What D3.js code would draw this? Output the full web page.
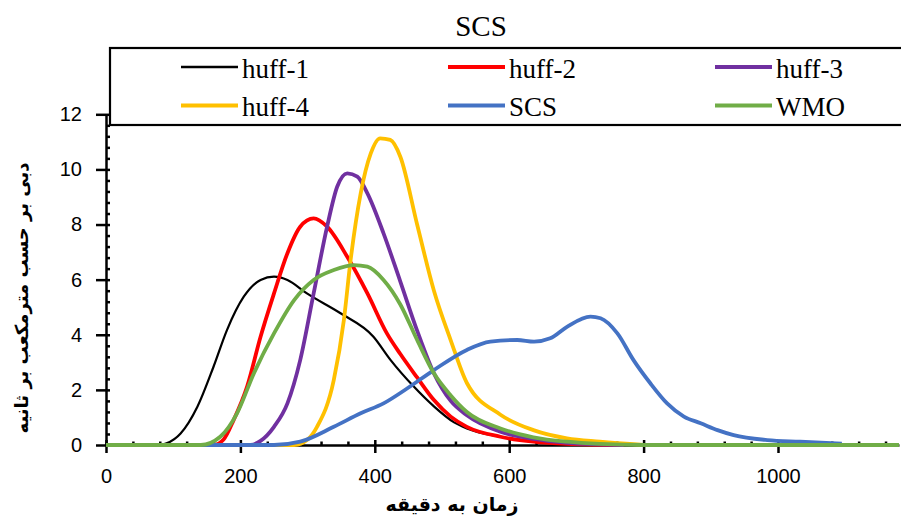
<!DOCTYPE html>
<html>
<head>
<meta charset="utf-8">
<script src="https://cdn.jsdelivr.net/npm/d3@7"></script>
<style>
  body { margin: 0; background: #fff; }
  .tick text { font-family: "Liberation Sans", Arial, sans-serif; font-size: 20px; fill: #000; }
  .legend-text, .title { font-family: "Liberation Serif", "Times New Roman", serif; fill: #000; }
  .axis-title { font-family: "DejaVu Sans", sans-serif; font-weight: bold; fill: #000; }
</style>
</head>
<body>
<div id="chart"></div>
<script>

// --------------------------------------
//  Data
// --------------------------------------

const seriesNames = ["huff-1", "huff-2", "huff-3", "huff-4", "SCS", "WMO"];
const seriesColors = ["#000000", "#FF0000", "#7030A0", "#FFC000", "#4472C4", "#70AD47"];

const huff1Time = [0, 80, 90, 111, 136, 160, 180, 205, 230, 250, 270, 299, 349, 398, 423, 458, 488, 518, 537, 587, 636, 686, 760];
const huff1Flow = [0, 0, 0.06, 0.42, 1.39, 2.84, 4.17, 5.38, 5.99, 6.11, 5.99, 5.5, 4.78, 3.93, 3.1, 2.12, 1.4, 0.82, 0.6, 0.3, 0.12, 0.04, 0];

const huff2Time = [0, 160, 175, 190, 210, 230, 250, 270, 289, 309, 329, 359, 389, 418, 438, 463, 488, 513, 537, 587, 636, 686, 770];
const huff2Flow = [0, 0, 0.2, 0.91, 2.12, 3.93, 5.5, 6.96, 7.92, 8.22, 7.92, 6.83, 5.5, 4.05, 3.3, 2.45, 1.63, 1.03, 0.66, 0.3, 0.12, 0.04, 0];

const huff3Time = [0, 215, 230, 250, 270, 289, 309, 329, 344, 359, 374, 389, 413, 438, 463, 488, 513, 537, 587, 636, 686, 770];
const huff3Flow = [0, 0, 0.15, 0.66, 1.51, 3.08, 5.5, 7.92, 9.37, 9.86, 9.74, 9.13, 7.68, 5.93, 4.15, 2.6, 1.6, 1.08, 0.48, 0.22, 0.08, 0];

const huff4Time = [0, 280, 300, 314, 339, 354, 364, 379, 394, 408, 423, 438, 463, 488, 513, 537, 587, 636, 686, 735, 800];
const huff4Flow = [0, 0, 0.2, 0.66, 2.36, 4.54, 6.71, 9.13, 10.58, 11.13, 11.07, 10.46, 8.0, 5.6, 3.8, 2.25, 1.1, 0.54, 0.24, 0.12, 0];

const scsTime = [0, 250, 289, 339, 379, 413, 448, 488, 537, 572, 612, 637, 661, 686, 721, 736, 761, 785, 810, 835, 860, 885, 910, 934, 984, 1033, 1095];
const scsFlow = [0, 0, 0.12, 0.66, 1.15, 1.51, 2.05, 2.72, 3.45, 3.75, 3.81, 3.75, 3.87, 4.29, 4.66, 4.6, 4.05, 3.08, 2.24, 1.51, 1.03, 0.79, 0.54, 0.36, 0.18, 0.12, 0.05];

const wmoTime = [0, 141, 170, 195, 220, 250, 280, 309, 339, 369, 389, 413, 438, 463, 488, 513, 537, 587, 636, 686, 735, 800, 1180];
const wmoFlow = [0, 0, 0.3, 1.15, 2.6, 4.05, 5.26, 5.99, 6.35, 6.53, 6.47, 5.99, 5.1, 3.81, 2.6, 1.8, 1.2, 0.6, 0.28, 0.12, 0.04, 0, 0];

const xMajorTicks = [0, 200, 400, 600, 800, 1000];
const yMajorTicks = [0, 2, 4, 6, 8, 10, 12];

const chartTitle = "SCS";
const xTitle = "زمان به دقیقه";
const yTitle = "دبی بر حسب مترمکعب بر ثانیه";

const series = [
  [huff1Time, huff1Flow], [huff2Time, huff2Flow], [huff3Time, huff3Flow],
  [huff4Time, huff4Flow], [scsTime, scsFlow], [wmoTime, wmoFlow]
].map(([t, q], i) => ({
  name: seriesNames[i],
  color: seriesColors[i],
  values: t.map((d, j) => ({time: d, flow: q[j]}))
}));

// --------------------------------------
//  Margin and canvas
// --------------------------------------

const width = 901;
const height = 519;
const margin = {top: 114.3, left: 106, bottom: 74};
const innerheight = height - margin.top - margin.bottom;

const svg = d3.select("#chart")
  .append("svg")
    .attr("width", width)
    .attr("height", height)
    .attr("viewBox", `0, 0, ${width}, ${height}`);

// --------------------------------------
//  Scales
// --------------------------------------

const x = d3.scaleLinear()
    .domain([0, 1180])
    .range([margin.left, margin.left + 0.672 * 1180]);

const y = d3.scaleLinear()
    .domain([0, 12])
    .range([margin.top + innerheight, margin.top]);

const x0 = y(0);

// --------------------------------------
//  Axes
// --------------------------------------

// minor x ticks (every 40 min, pointing up)
svg.append("g")
    .attr("transform", `translate(0, ${x0})`)
    .call(d3.axisBottom(x)
      .tickValues(d3.range(40, 1180, 40).filter(d => d % 200 !== 0))
      .tickSize(-3.5)
      .tickFormat(""))
    .call(g => g.select(".domain").remove())
    .call(g => g.selectAll("line").attr("stroke-width", 2.5));

// major x ticks, crossing the axis
svg.append("g")
    .attr("class", "x-axis")
    .attr("transform", `translate(0, ${x0})`)
    .call(d3.axisBottom(x)
      .tickValues(xMajorTicks)
      .tickSize(8)
      .tickSizeOuter(0)
      .tickFormat(d3.format("d"))
      .tickPadding(16))
    .call(g => g.select(".domain").attr("stroke-width", 2.5))
    .call(g => g.selectAll(".tick line").attr("y1", -5).attr("stroke-width", 2.5));

// minor y ticks (every 0.4, pointing right)
svg.append("g")
    .attr("transform", `translate(${margin.left}, 0)`)
    .call(d3.axisLeft(y)
      .tickValues(d3.range(0.4, 12, 0.4).filter(d => Math.abs(d / 2 - Math.round(d / 2)) > 0.01))
      .tickSize(-4)
      .tickFormat(""))
    .call(g => g.select(".domain").remove())
    .call(g => g.selectAll("line").attr("stroke-width", 2.5));

svg.append("g")
    .attr("class", "y-axis")
    .attr("transform", `translate(${margin.left}, 0)`)
    .call(d3.axisLeft(y)
      .tickValues(yMajorTicks)
      .tickSize(10)
      .tickSizeOuter(0)
      .tickPadding(14))
    .call(g => g.select(".domain").attr("stroke-width", 2.5))
    .call(g => g.selectAll(".tick line").attr("x1", 4).attr("stroke-width", 2.5));

// --------------------------------------
//  Data drawing
// --------------------------------------

const line = d3.line()
    .x(d => x(d.time))
    .y(d => y(d.flow))
    .curve(d3.curveMonotoneX);

svg.append("g")
  .selectAll(".flow")
  .data(series)
  .join("path")
    .attr("class", "flow")
    .attr("fill", "none")
    .attr("stroke", d => d.color)
    .attr("stroke-width", d => d.name === "huff-1" ? 2.2 : 3.8)
    .attr("stroke-linejoin", "round")
    .attr("d", d => line(d.values));

// --------------------------------------
//  Legend and titles
// --------------------------------------

svg.append("rect")
    .attr("x", 110)
    .attr("y", 48)
    .attr("width", 800)
    .attr("height", 77)
    .attr("fill", "#fff")
    .attr("stroke", "#000")
    .attr("stroke-width", 2.2);

const legendCols = [181, 448, 715];
const legendRows = [67, 105.5];

const legend = svg.append("g")
  .selectAll(".legend")
  .data(series)
  .join("g")
    .attr("class", "legend")
    .attr("transform", (d, i) => `translate(${legendCols[i % 3]}, ${legendRows[Math.floor(i / 3)]})`);

legend.append("line")
    .attr("x1", 0)
    .attr("x2", 57)
    .attr("stroke", d => d.color)
    .attr("stroke-width", d => d.name === "huff-1" ? 2.5 : 4);

legend.append("text")
    .attr("class", "legend-text")
    .attr("x", 61)
    .attr("y", 10.5)
    .attr("font-size", 27)
    .text(d => d.name);

svg.append("text")
    .attr("class", "title")
    .attr("x", 481)
    .attr("y", 36)
    .attr("text-anchor", "middle")
    .attr("font-size", 29)
    .text(chartTitle);

svg.append("text")
    .attr("class", "axis-title")
    .attr("x", 452)
    .attr("y", 511)
    .attr("text-anchor", "middle")
    .attr("font-size", 19)
    .text(xTitle);

svg.append("text")
    .attr("class", "axis-title")
    .attr("transform", "translate(28, 298) rotate(-90)")
    .attr("text-anchor", "middle")
    .attr("font-size", 18)
    .text(yTitle);

</script>
</body>
</html>
